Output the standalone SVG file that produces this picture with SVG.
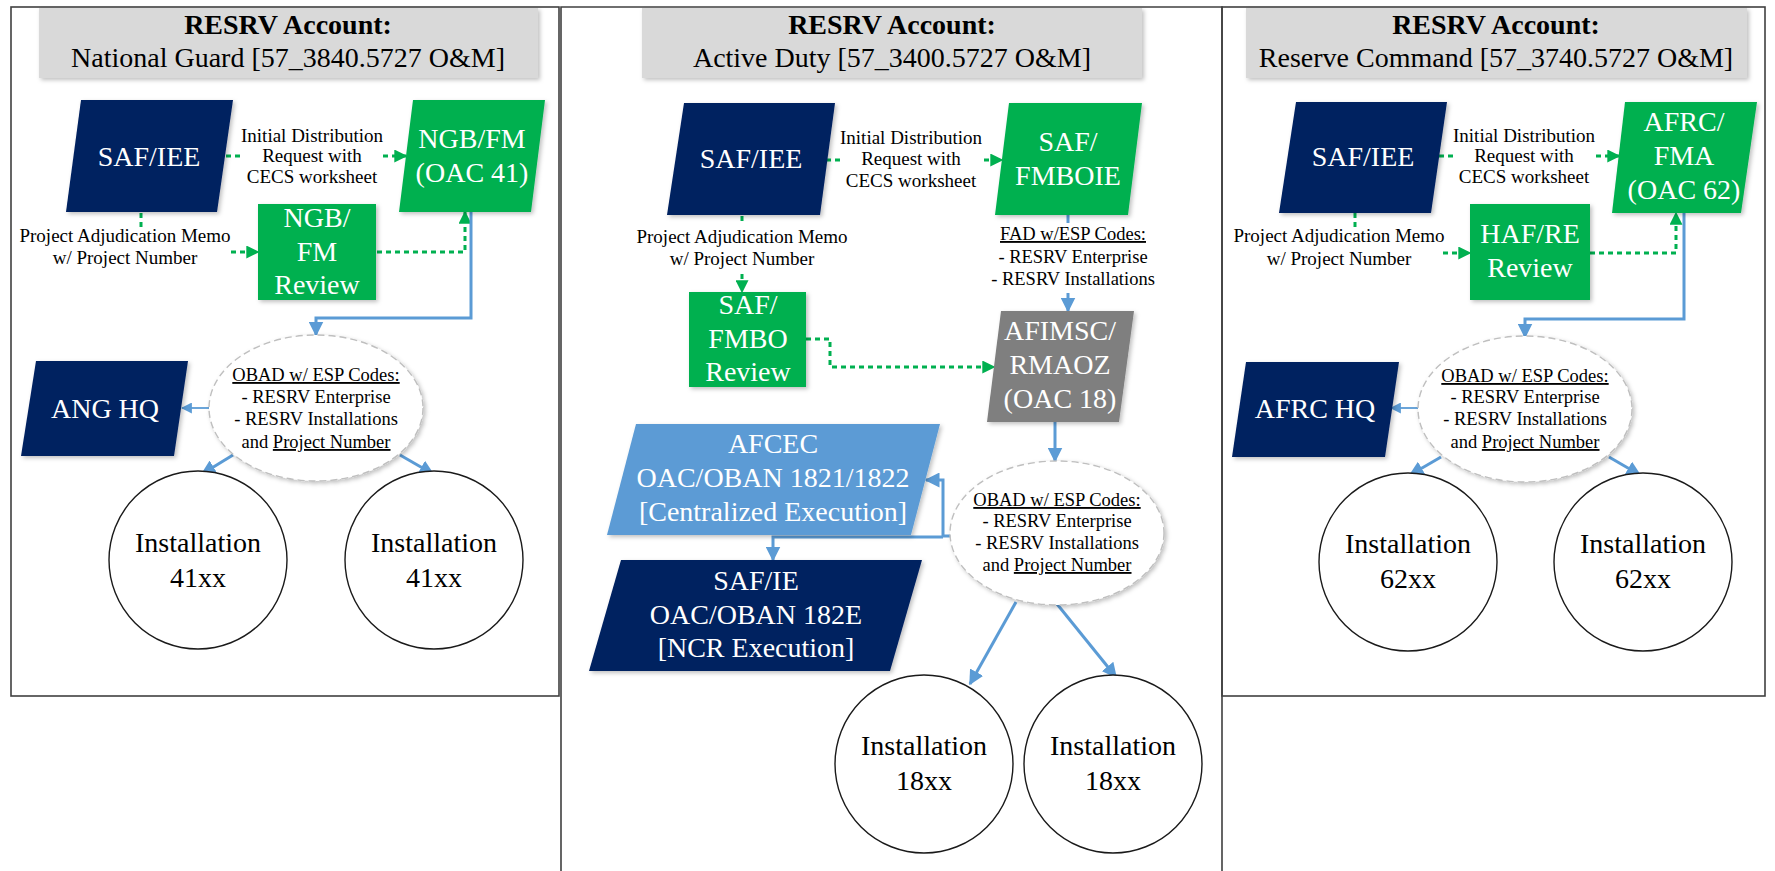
<svg xmlns="http://www.w3.org/2000/svg" width="1775" height="871" viewBox="0 0 1775 871">
<style>
  text { font-family: "Liberation Serif", "Times New Roman", serif; }
  .hd { fill: #D9D9D9; }
  .t1 { font-size: 28px; font-weight: bold; fill: #000; text-anchor: middle; }
  .t2 { font-size: 28px; fill: #000; text-anchor: middle; }
  .nt { font-size: 28px; fill: #FFFFFF; text-anchor: middle; }
  .lb { font-size: 19px; fill: #000; text-anchor: middle; }
  .el { font-size: 18.5px; fill: #000; text-anchor: middle; }
  .u { text-decoration: underline; }
  .navy { fill: #002060; }
  .green { fill: #00B050; }
  .grey { fill: #7F7F7F; }
  .lblue { fill: #5B9BD5; }
  .panel { fill: none; stroke: #404040; stroke-width: 1.6; }
  .oval { fill: #FFFFFF; stroke: #BFBFBF; stroke-width: 1.4; stroke-dasharray: 7 4; }
  .circ { fill: #FFFFFF; stroke: #1A1A1A; stroke-width: 1.4; }
  .gd { fill: none; stroke: #00B050; stroke-width: 3; stroke-dasharray: 5 4; }
  .bl { fill: none; stroke: #5B9BD5; stroke-width: 3; }
  .blt { fill: none; stroke: #5B9BD5; stroke-width: 1.8; }
  .ic { font-size: 28px; fill: #000; text-anchor: middle; }
</style>
<defs>
  <filter id="sh" x="-10%" y="-10%" width="130%" height="130%">
    <feDropShadow dx="2" dy="2" stdDeviation="2" flood-color="#000" flood-opacity="0.25"/>
  </filter>
  <marker id="ag" viewBox="0 0 10 10" refX="9" refY="5" markerWidth="13" markerHeight="13" markerUnits="userSpaceOnUse" orient="auto">
    <path d="M0,0 L10,5 L0,10 z" fill="#00B050"/>
  </marker>
  <marker id="ab" viewBox="0 0 10 10" refX="9" refY="5" markerWidth="15" markerHeight="15" markerUnits="userSpaceOnUse" orient="auto">
    <path d="M0,0 L10,5 L0,10 z" fill="#5B9BD5"/>
  </marker>
  <marker id="abt" viewBox="0 0 10 10" refX="9" refY="5" markerWidth="11" markerHeight="11" markerUnits="userSpaceOnUse" orient="auto">
    <path d="M0,0 L10,5 L0,10 z" fill="#5B9BD5"/>
  </marker>
</defs>
<rect x="0" y="0" width="1775" height="871" fill="#FFFFFF"/>

<!-- Panel frames -->
<g id="panels">
  <rect class="panel" x="11" y="7" width="548" height="689"/>
  <path class="panel" d="M561,880 V7 H1222 V880"/>
  <rect class="panel" x="1222" y="7" width="543" height="689"/>
</g>

<!-- Headers -->
<g id="header-ng">
  <rect class="hd" x="39" y="8" width="499" height="70" filter="url(#sh)"/>
  <text class="t1" x="288" y="34">RESRV Account:</text>
  <text class="t2" x="288" y="67">National Guard [57_3840.5727 O&amp;M]</text>
</g>
<g id="header-ad">
  <rect class="hd" x="642" y="8" width="500" height="70" filter="url(#sh)"/>
  <text class="t1" x="892" y="34">RESRV Account:</text>
  <text class="t2" x="892" y="67">Active Duty [57_3400.5727 O&amp;M]</text>
</g>
<g id="header-rc">
  <rect class="hd" x="1246" y="8" width="501" height="70" filter="url(#sh)"/>
  <text class="t1" x="1496" y="34">RESRV Account:</text>
  <text class="t2" x="1496" y="67">Reserve Command [57_3740.5727 O&amp;M]</text>
</g>

<!-- Connectors -->
<g id="connectors">
  <!-- Panel 1 -->
  <path class="gd" d="M226,156 H244"/>
  <path class="gd" d="M383,156 H406" marker-end="url(#ag)"/>
  <path class="gd" d="M141,213 V228"/>
  <path class="gd" d="M231,252 H258" marker-end="url(#ag)"/>
  <path class="gd" d="M377,252 H465 V212" marker-end="url(#ag)"/>
  <path class="bl" d="M471,212 V318 H316 V335" marker-end="url(#ab)"/>
  <path class="blt" d="M209,408 H182" marker-end="url(#abt)"/>
  <path class="bl" d="M233,455 L202,474" marker-end="url(#ab)"/>
  <path class="bl" d="M400,455 L433,474" marker-end="url(#ab)"/>

  <!-- Panel 2 -->
  <path class="gd" d="M826,160 H842"/>
  <path class="gd" d="M984,160 H1002" marker-end="url(#ag)"/>
  <path class="gd" d="M742,216 V224"/>
  <path class="gd" d="M742,274 V292" marker-end="url(#ag)"/>
  <path class="gd" d="M806,339 H830 V367 H994" marker-end="url(#ag)"/>
  <path class="bl" d="M1068,215 V223"/>
  <path class="bl" d="M1068,293 V311" marker-end="url(#ab)"/>
  <path class="bl" d="M1055,422 V461" marker-end="url(#ab)"/>
  <path class="bl" d="M951,536 H943 V480 H926" marker-end="url(#ab)"/>
  <path class="bl" d="M943,537 H773 V560" marker-end="url(#ab)"/>
  <path class="bl" d="M1016,602 L970,684" marker-end="url(#ab)"/>
  <path class="bl" d="M1057,604 L1116,677" marker-end="url(#ab)"/>

  <!-- Panel 3 -->
  <path class="gd" d="M1439,156 H1455"/>
  <path class="gd" d="M1596,156 H1619" marker-end="url(#ag)"/>
  <path class="gd" d="M1355,213 V228"/>
  <path class="gd" d="M1443,253 H1470" marker-end="url(#ag)"/>
  <path class="gd" d="M1590,253 H1676 V213" marker-end="url(#ag)"/>
  <path class="bl" d="M1684,213 V319 H1525 V337" marker-end="url(#ab)"/>
  <path class="blt" d="M1418,408 H1391" marker-end="url(#abt)"/>
  <path class="bl" d="M1441,457 L1410,475" marker-end="url(#ab)"/>
  <path class="bl" d="M1609,457 L1640,475" marker-end="url(#ab)"/>
</g>

<!-- Connector labels -->
<g id="labels">
  <text class="lb" x="312" y="142">Initial Distribution</text>
  <text class="lb" x="312" y="162">Request with</text>
  <text class="lb" x="312" y="183">CECS worksheet</text>
  <text class="lb" x="125" y="242">Project Adjudication Memo</text>
  <text class="lb" x="125" y="264">w/ Project Number</text>

  <text class="lb" x="911" y="144">Initial Distribution</text>
  <text class="lb" x="911" y="165">Request with</text>
  <text class="lb" x="911" y="187">CECS worksheet</text>
  <text class="lb" x="742" y="243">Project Adjudication Memo</text>
  <text class="lb" x="742" y="265">w/ Project Number</text>
  <text class="el u" x="1073" y="240">FAD w/ESP Codes:</text>
  <text class="el" x="1073" y="263">- RESRV Enterprise</text>
  <text class="el" x="1073" y="285">- RESRV Installations</text>

  <text class="lb" x="1524" y="142">Initial Distribution</text>
  <text class="lb" x="1524" y="162">Request with</text>
  <text class="lb" x="1524" y="183">CECS worksheet</text>
  <text class="lb" x="1339" y="242">Project Adjudication Memo</text>
  <text class="lb" x="1339" y="265">w/ Project Number</text>
</g>

<!-- Panel 1 nodes -->
<g id="ng-safiee">
  <polygon class="navy" points="81,100 233,100 217,212 66,212" filter="url(#sh)"/>
  <text class="nt" x="149" y="166">SAF/IEE</text>
</g>
<g id="ng-ngbfm">
  <polygon class="green" points="413,100 545,100 531,212 399,212" filter="url(#sh)"/>
  <text class="nt" x="472" y="148">NGB/FM</text>
  <text class="nt" x="472" y="182">(OAC 41)</text>
</g>
<g id="ng-review">
  <rect class="green" x="258" y="204" width="118" height="96" filter="url(#sh)"/>
  <text class="nt" x="317" y="227">NGB/</text>
  <text class="nt" x="317" y="261">FM</text>
  <text class="nt" x="317" y="294">Review</text>
</g>
<g id="ng-obad">
  <ellipse class="oval" cx="316" cy="408" rx="107" ry="73" filter="url(#sh)"/>
  <text class="el u" x="316" y="381">OBAD w/ ESP Codes:</text>
  <text class="el" x="316" y="403">- RESRV Enterprise</text>
  <text class="el" x="316" y="425">- RESRV Installations</text>
  <text class="el" x="316" y="448">and <tspan class="u">Project Number</tspan></text>
</g>
<g id="ng-anghq">
  <polygon class="navy" points="36,361 188,361 174,456 21,456" filter="url(#sh)"/>
  <text class="nt" x="105" y="418">ANG HQ</text>
</g>
<g id="ng-inst1">
  <circle class="circ" cx="198" cy="560" r="89"/>
  <text class="ic" x="198" y="552">Installation</text>
  <text class="ic" x="198" y="587">41xx</text>
</g>
<g id="ng-inst2">
  <circle class="circ" cx="434" cy="560" r="89"/>
  <text class="ic" x="434" y="552">Installation</text>
  <text class="ic" x="434" y="587">41xx</text>
</g>

<!-- Panel 2 nodes -->
<g id="ad-safiee">
  <polygon class="navy" points="684,103 835,103 820,215 667,215" filter="url(#sh)"/>
  <text class="nt" x="751" y="168">SAF/IEE</text>
</g>
<g id="ad-fmboie">
  <polygon class="green" points="1009,103 1142,103 1128,215 995,215" filter="url(#sh)"/>
  <text class="nt" x="1068" y="151">SAF/</text>
  <text class="nt" x="1068" y="185">FMBOIE</text>
</g>
<g id="ad-fmbo">
  <rect class="green" x="689" y="292" width="117" height="95" filter="url(#sh)"/>
  <text class="nt" x="748" y="314">SAF/</text>
  <text class="nt" x="748" y="348">FMBO</text>
  <text class="nt" x="748" y="381">Review</text>
</g>
<g id="ad-afimsc">
  <polygon class="grey" points="1001,311 1134,311 1119,422 987,422" filter="url(#sh)"/>
  <text class="nt" x="1060" y="340">AFIMSC/</text>
  <text class="nt" x="1060" y="374">RMAOZ</text>
  <text class="nt" x="1060" y="408">(OAC 18)</text>
</g>
<g id="ad-afcec">
  <polygon class="lblue" points="636,424 940,424 911,535 607,535" filter="url(#sh)"/>
  <text class="nt" x="773" y="453">AFCEC</text>
  <text class="nt" x="773" y="487">OAC/OBAN 1821/1822</text>
  <text class="nt" x="773" y="521">[Centralized Execution]</text>
</g>
<g id="ad-safie">
  <polygon class="navy" points="621,560 922,560 890,671 589,671" filter="url(#sh)"/>
  <text class="nt" x="756" y="590">SAF/IE</text>
  <text class="nt" x="756" y="624">OAC/OBAN 182E</text>
  <text class="nt" x="756" y="657">[NCR Execution]</text>
</g>
<g id="ad-obad">
  <ellipse class="oval" cx="1057" cy="533" rx="107" ry="72" filter="url(#sh)"/>
  <text class="el u" x="1057" y="506">OBAD w/ ESP Codes:</text>
  <text class="el" x="1057" y="527">- RESRV Enterprise</text>
  <text class="el" x="1057" y="549">- RESRV Installations</text>
  <text class="el" x="1057" y="571">and <tspan class="u">Project Number</tspan></text>
</g>
<g id="ad-inst1">
  <circle class="circ" cx="924" cy="764" r="89"/>
  <text class="ic" x="924" y="755">Installation</text>
  <text class="ic" x="924" y="790">18xx</text>
</g>
<g id="ad-inst2">
  <circle class="circ" cx="1113" cy="764" r="89"/>
  <text class="ic" x="1113" y="755">Installation</text>
  <text class="ic" x="1113" y="790">18xx</text>
</g>

<!-- Panel 3 nodes -->
<g id="rc-safiee">
  <polygon class="navy" points="1296,102 1447,102 1431,213 1279,213" filter="url(#sh)"/>
  <text class="nt" x="1363" y="166">SAF/IEE</text>
</g>
<g id="rc-afrcfma">
  <polygon class="green" points="1625,102 1757,102 1741,213 1612,213" filter="url(#sh)"/>
  <text class="nt" x="1684" y="131">AFRC/</text>
  <text class="nt" x="1684" y="165">FMA</text>
  <text class="nt" x="1684" y="199">(OAC 62)</text>
</g>
<g id="rc-review">
  <rect class="green" x="1470" y="204" width="120" height="96" filter="url(#sh)"/>
  <text class="nt" x="1530" y="243">HAF/RE</text>
  <text class="nt" x="1530" y="277">Review</text>
</g>
<g id="rc-obad">
  <ellipse class="oval" cx="1525" cy="409" rx="107" ry="73" filter="url(#sh)"/>
  <text class="el u" x="1525" y="382">OBAD w/ ESP Codes:</text>
  <text class="el" x="1525" y="403">- RESRV Enterprise</text>
  <text class="el" x="1525" y="425">- RESRV Installations</text>
  <text class="el" x="1525" y="448">and <tspan class="u">Project Number</tspan></text>
</g>
<g id="rc-afrchq">
  <polygon class="navy" points="1246,362 1399,362 1385,457 1232,457" filter="url(#sh)"/>
  <text class="nt" x="1315" y="418">AFRC HQ</text>
</g>
<g id="rc-inst1">
  <circle class="circ" cx="1408" cy="562" r="89"/>
  <text class="ic" x="1408" y="553">Installation</text>
  <text class="ic" x="1408" y="588">62xx</text>
</g>
<g id="rc-inst2">
  <circle class="circ" cx="1643" cy="562" r="89"/>
  <text class="ic" x="1643" y="553">Installation</text>
  <text class="ic" x="1643" y="588">62xx</text>
</g>
</svg>
